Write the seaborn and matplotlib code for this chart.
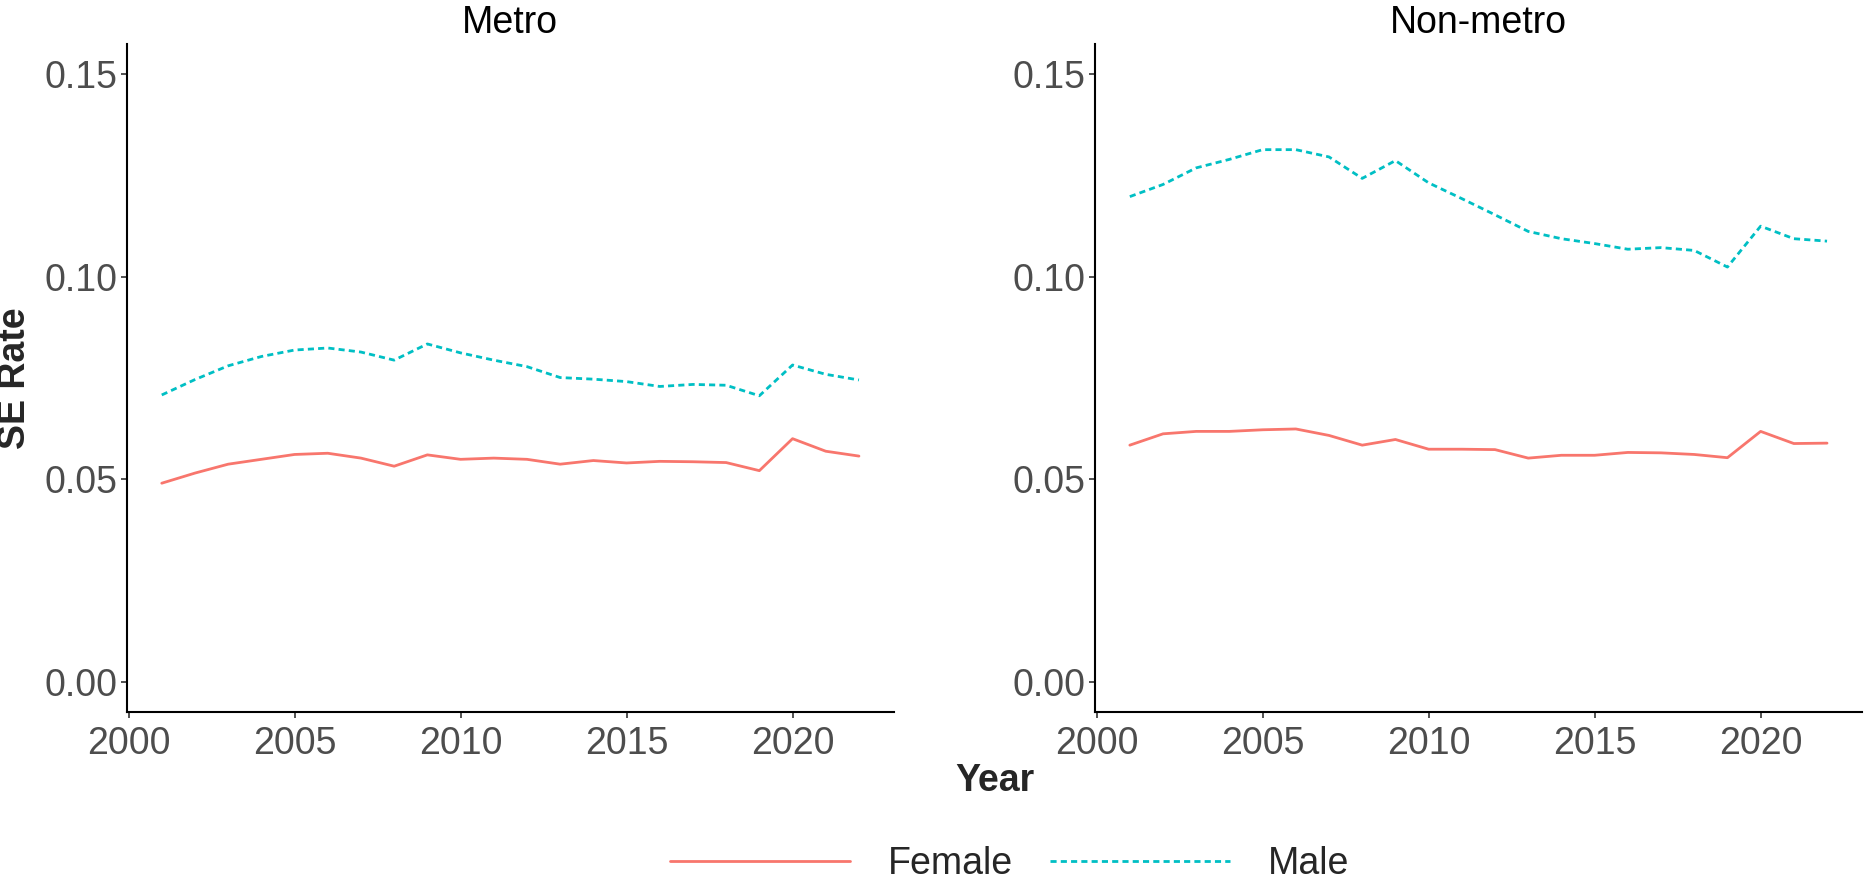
import numpy as np
import pandas as pd
import matplotlib
matplotlib.use("Agg")
import matplotlib.pyplot as plt
import seaborn as sns
from matplotlib.lines import Line2D

years = list(range(2001, 2023))

metro_female = [0.0490, 0.0515, 0.0537, 0.0549, 0.0561, 0.0564, 0.0552, 0.0532, 0.0560, 0.0549,
                0.0552, 0.0549, 0.0537, 0.0546, 0.0540, 0.0544, 0.0543, 0.0541, 0.0521, 0.0600,
                0.0569, 0.0557]
metro_male = [0.0708, 0.0746, 0.0780, 0.0803, 0.0819, 0.0824, 0.0814, 0.0794, 0.0834, 0.0812,
              0.0794, 0.0778, 0.0751, 0.0747, 0.0741, 0.0729, 0.0734, 0.0732, 0.0706, 0.0782,
              0.0759, 0.0745]
nonmetro_female = [0.0584, 0.0612, 0.0618, 0.0618, 0.0622, 0.0624, 0.0608, 0.0584, 0.0598, 0.0574,
                   0.0574, 0.0573, 0.0552, 0.0559, 0.0559, 0.0566, 0.0565, 0.0561, 0.0553, 0.0618,
                   0.0588, 0.0589]
nonmetro_male = [0.1198, 0.1228, 0.1269, 0.1290, 0.1314, 0.1314, 0.1296, 0.1243, 0.1287, 0.1232,
                 0.1193, 0.1153, 0.1112, 0.1094, 0.1082, 0.1068, 0.1072, 0.1065, 0.1024, 0.1125,
                 0.1094, 0.1088]

areas = ["Metro", "Non-metro"]
sexes = ["Female", "Male"]
colors = {"Female": "#F8766D", "Male": "#00BFC4"}

rows = []
for area, f, m in [("Metro", metro_female, metro_male), ("Non-metro", nonmetro_female, nonmetro_male)]:
    for y, a, b in zip(years, f, m):
        rows.append({"area": area, "Year": y, "sex": "Female", "rate": a})
        rows.append({"area": area, "Year": y, "sex": "Male", "rate": b})
df = pd.DataFrame(rows)

sns.set_style("white")
plt.rcParams["font.family"] = ["Liberation Sans", "DejaVu Sans"]
fs = 27

fig = plt.figure(figsize=(18.66, 8.8), dpi=100)
lefts = [0.068, 0.5868]
axes = [fig.add_axes([l, 0.191, 0.411, 0.759]) for l in lefts]

dash_male = (2.2, 1.5)
for ax, area in zip(axes, areas):
    sub = df[df.area == area]
    sns.lineplot(data=sub, x="Year", y="rate", hue="sex", style="sex",
                 palette=colors, dashes={"Female": "", "Male": dash_male},
                 linewidth=2, ax=ax, legend=False)
    ax.set_xlim(1999.95, 2023.05)
    ax.set_ylim(-0.0075, 0.1575)
    ax.set_xticks([2000, 2005, 2010, 2015, 2020])
    ax.set_yticks([0.0, 0.05, 0.10, 0.15])
    ax.set_yticklabels(["0.00", "0.05", "0.10", "0.15"])
    ax.set_xlabel("")
    ax.set_ylabel("")
    ax.set_title(area, fontsize=fs, pad=8, color="black")
    for s in ["top", "right"]:
        ax.spines[s].set_visible(False)
    for s in ["left", "bottom"]:
        ax.spines[s].set_color("black")
        ax.spines[s].set_linewidth(1.5)
    ax.tick_params(axis="both", labelsize=fs, colors="#333333", labelcolor="#4D4D4D",
                   length=4, width=1.2, pad=3, left=True, bottom=True)
    ax.tick_params(axis="x", pad=6)
    ax.grid(False)

fig.text(0.008, 0.5705, "SE Rate", rotation=90, fontsize=fs, fontweight="bold",
         ha="center", va="center")
fig.text(0.533, 0.1125, "Year", fontsize=fs, fontweight="bold", ha="center", va="center")

handles = [Line2D([], [], color=colors["Female"], lw=2),
           Line2D([], [], color=colors["Male"], lw=2, dashes=dash_male)]
fig.legend(handles, sexes, loc="center", bbox_to_anchor=(0.541, 0.018), ncol=2,
           frameon=False, fontsize=fs, handlelength=4.8, handletextpad=1.0,
           columnspacing=1.0)

fig.savefig("out.png", dpi=100)
